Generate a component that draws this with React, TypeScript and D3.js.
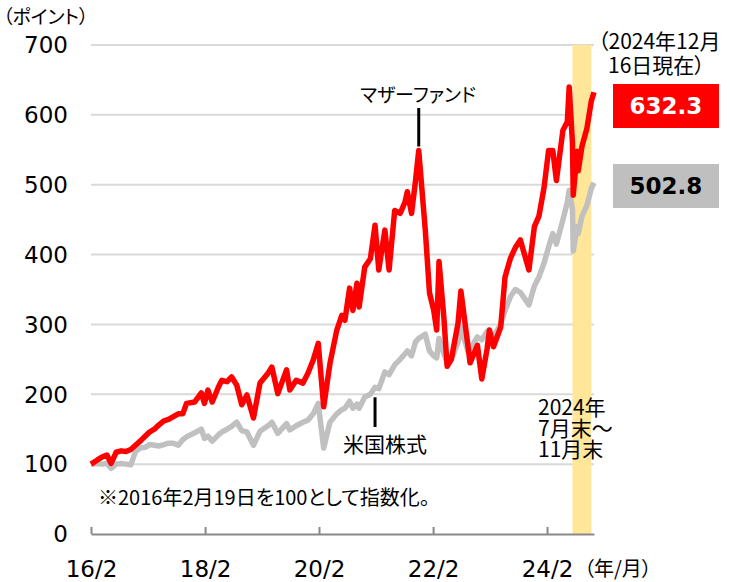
import React, { useEffect, useRef } from 'react';
import * as d3 from 'd3';

// observation dates shared by both series
const dates = [
  '2016-02-19', '2016-03-31', '2016-04-29', '2016-05-31', '2016-06-27', '2016-07-29', '2016-08-31',
  '2016-09-30', '2016-10-31', '2016-11-30', '2016-12-30', '2017-01-31', '2017-02-28', '2017-03-31',
  '2017-04-28', '2017-05-31', '2017-06-30', '2017-07-31', '2017-08-31', '2017-09-29', '2017-10-23',
  '2017-12-15', '2018-01-26', '2018-02-15', '2018-03-09', '2018-04-06', '2018-05-15', '2018-06-06',
  '2018-07-10', '2018-08-08', '2018-09-10', '2018-10-12', '2018-11-14', '2018-12-26', '2019-02-06',
  '2019-03-29', '2019-04-23', '2019-05-31', '2019-07-26', '2019-08-16', '2019-09-26', '2019-11-08',
  '2019-12-10', '2020-01-13', '2020-02-14', '2020-03-20', '2020-04-29', '2020-06-12', '2020-07-14',
  '2020-08-03', '2020-09-02', '2020-09-23', '2020-10-19', '2020-11-02', '2020-12-08', '2021-01-13',
  '2021-02-12', '2021-03-08', '2021-04-16', '2021-05-13', '2021-06-18', '2021-07-23', '2021-08-23',
  '2021-09-07', '2021-10-04', '2021-10-29', '2021-11-19', '2021-12-31', '2022-01-27', '2022-02-23',
  '2022-03-14', '2022-03-29', '2022-04-29', '2022-05-20', '2022-06-16', '2022-07-29', '2022-08-16',
  '2022-09-30', '2022-10-14', '2022-11-30', '2022-12-28', '2023-01-31', '2023-02-15', '2023-03-13',
  '2023-04-28', '2023-05-26', '2023-06-30', '2023-07-31', '2023-09-01', '2023-10-26', '2023-11-30',
  '2023-12-29', '2024-01-31', '2024-02-29', '2024-03-27', '2024-04-19', '2024-05-31', '2024-06-28',
  '2024-07-10', '2024-07-31', '2024-08-05', '2024-08-30', '2024-09-06', '2024-09-30', '2024-10-31',
  '2024-11-29', '2024-12-16',
];

// マザーファンド
const fundValues = [
  100, 106, 110, 113, 101, 117, 119,
  118, 121, 127, 133, 140, 146, 150,
  156, 162, 164, 168, 172, 172, 187,
  189, 202, 187, 206, 189, 210, 220,
  218, 225, 213, 185, 199, 166, 216,
  230, 239, 201, 235, 206, 220, 216,
  230, 249, 273, 182, 244, 292, 313,
  306, 352, 320, 359, 325, 382, 394,
  442, 378, 435, 378, 463, 459, 475,
  490, 459, 505, 549, 435, 345, 320,
  292, 390, 310, 240, 250, 302, 348,
  270, 245, 270, 222, 265, 292, 268,
  296, 368, 395, 410, 421, 378, 440,
  455, 496, 549, 549, 506, 578, 590,
  640, 560, 485, 548, 520, 555, 580,
  620, 632.3,
];

// 米国株式
const usStockValues = [
  100, 101, 100, 101, 94, 100, 101,
  100, 99, 118, 123, 124, 128, 127,
  126, 128, 130, 130, 127, 135, 139,
  145, 150, 137, 140, 133, 142, 146,
  150, 154, 160, 148, 146, 127, 147,
  155, 160, 144, 158, 149, 155, 160,
  163, 172, 187, 123, 160, 172, 178,
  180, 190, 180, 186, 180, 196, 200,
  210, 208, 232, 228, 242, 250, 258,
  262, 255, 275, 280, 286, 262, 255,
  252, 280, 258, 246, 250, 275, 295,
  262, 265, 282, 278, 290, 288, 283,
  300, 320, 340, 350, 346, 328, 355,
  368, 388, 411, 430, 415, 450, 475,
  492, 465, 405, 440, 430, 455, 470,
  495, 502.8,
];

const yTicks = [0, 100, 200, 300, 400, 500, 600, 700];
const xTickDates = ['2016-02-19', '2018-02-19', '2020-02-19', '2022-02-19', '2024-02-19'];
const xTickLabels = ['16/2', '18/2', '20/2', '22/2', '24/2'];
const highlightRange = ['2024-07-31', '2024-11-29'];

const NUM_FONT = '"DejaVu Sans", Verdana, sans-serif';
const JP_FONT = '"Noto Sans CJK JP", sans-serif';

export default function App() {
  const ref = useRef<SVGSVGElement>(null);

  useEffect(() => {
    const width = 734;
    const height = 582;
    const margin = { top: 45, right: 140, bottom: 48, left: 91 };
    const parse = d3.timeParse('%Y-%m-%d');

    const x = d3.scaleTime()
      .domain([parse(dates[0])!, parse(dates[dates.length - 1])!])
      .range([margin.left, width - margin.right]);

    const y = d3.scaleLinear()
      .domain([0, 700])
      .range([height - margin.bottom, margin.top]);

    const svg = d3.select(ref.current);
    svg.selectAll('*').remove();

    // gridlines
    svg.append('g')
      .selectAll('line')
      .data(yTicks.filter((d) => d > 0))
      .join('line')
      .attr('x1', x.range()[0])
      .attr('x2', x.range()[1])
      .attr('y1', (d) => y(d))
      .attr('y2', (d) => y(d))
      .attr('stroke', '#d9d9d9')
      .attr('stroke-width', 2);

    // highlighted period
    const h0 = x(parse(highlightRange[0])!);
    const h1 = x(parse(highlightRange[1])!);
    svg.append('rect')
      .attr('x', h0)
      .attr('y', y(700))
      .attr('width', h1 - h0)
      .attr('height', y(0) - y(700))
      .attr('fill', '#ffe699');

    // y labels
    svg.append('g')
      .selectAll('text')
      .data(yTicks)
      .join('text')
      .attr('x', 68)
      .attr('y', (d) => y(d))
      .attr('dy', '0.36em')
      .attr('text-anchor', 'end')
      .attr('font-family', NUM_FONT)
      .attr('font-size', 23)
      .attr('fill', '#000')
      .text((d) => d);

    // x axis
    const xAxis = d3.axisBottom(x)
      .tickValues(xTickDates.map((d) => parse(d)!))
      .tickFormat((_, i) => xTickLabels[i])
      .tickSizeInner(-7)
      .tickSizeOuter(0)
      .tickPadding(27);

    const gx = svg.append('g')
      .attr('transform', `translate(0,${y(0)})`)
      .call(xAxis);
    gx.select('.domain').attr('stroke', '#898989').attr('stroke-width', 2);
    gx.selectAll('.tick line').attr('stroke', '#898989').attr('stroke-width', 2);
    gx.selectAll('.tick text')
      .attr('font-family', NUM_FONT)
      .attr('font-size', 23)
      .attr('fill', '#000');

    const series = dates.map((d, i) => ({ date: parse(d)!, fund: fundValues[i], us: usStockValues[i] }));

    const lineUs = d3.line<{ date: Date; us: number }>()
      .x((d) => x(d.date))
      .y((d) => y(d.us));
    const lineFund = d3.line<{ date: Date; fund: number }>()
      .x((d) => x(d.date))
      .y((d) => y(d.fund));

    svg.append('path')
      .datum(series)
      .attr('d', lineUs as any)
      .attr('fill', 'none')
      .attr('stroke', '#c0c0c0')
      .attr('stroke-width', 5.5)
      .attr('stroke-linejoin', 'round');

    svg.append('path')
      .datum(series)
      .attr('d', lineFund as any)
      .attr('fill', 'none')
      .attr('stroke', '#ff0000')
      .attr('stroke-width', 5.5)
      .attr('stroke-linejoin', 'round');

    // pointer lines
    const peak = series.reduce((a, b) => (b.fund > a.fund && b.date < parse('2022-01-01')! ? b : a));
    svg.append('line')
      .attr('x1', x(peak.date)).attr('x2', x(peak.date))
      .attr('y1', 108).attr('y2', y(peak.fund) - 4)
      .attr('stroke', '#000').attr('stroke-width', 3);

    const usPoint = series.find((d) => d.date >= parse('2021-02-12')!)!;
    svg.append('line')
      .attr('x1', x(usPoint.date)).attr('x2', x(usPoint.date))
      .attr('y1', y(usPoint.us) + 10).attr('y2', 427)
      .attr('stroke', '#000').attr('stroke-width', 3);

    const jp = (tx: number, ty: number, s: string, size: number, anchor = 'start') =>
      svg.append('text')
        .attr('x', tx)
        .attr('y', ty)
        .attr('text-anchor', anchor)
        .attr('font-family', JP_FONT)
        .attr('font-size', size)
        .attr('fill', '#000')
        .style('font-feature-settings', '"palt"')
        .text(s);

    jp(3, 24, '（ポイント）', 19);
    jp(418, 102, 'マザーファンド', 19, 'middle');
    jp(385, 452, '米国株式', 21, 'middle');
    jp(98, 505, '※2016年2月19日を100として指数化。', 20);
    jp(538, 415, '2024年', 21);
    jp(538, 436, '7月末～', 21);
    jp(538, 457, '11月末', 21);
    jp(598, 49, '（2024年12月', 21);
    jp(608, 73, '16日現在）', 21);
    jp(584, 576, '（年/月）', 20);

    // latest value boxes
    const boxes = [
      { v: fundValues[fundValues.length - 1], fill: '#ff0000', color: '#fff', y0: 84 },
      { v: usStockValues[usStockValues.length - 1], fill: '#bfbfbf', color: '#000', y0: 164 },
    ];
    boxes.forEach((b) => {
      svg.append('rect')
        .attr('x', 613).attr('y', b.y0)
        .attr('width', 106).attr('height', 44)
        .attr('fill', b.fill);
      svg.append('text')
        .attr('x', 666).attr('y', b.y0 + 22)
        .attr('dy', '0.36em')
        .attr('text-anchor', 'middle')
        .attr('font-family', NUM_FONT)
        .attr('font-weight', 'bold')
        .attr('font-size', 23)
        .attr('fill', b.color)
        .text(b.v.toFixed(1));
    });
  }, []);

  return (
    <svg
      ref={ref}
      width={734}
      height={582}
      style={{ position: 'absolute', left: 0, top: 0, background: '#fff' }}
    />
  );
}
